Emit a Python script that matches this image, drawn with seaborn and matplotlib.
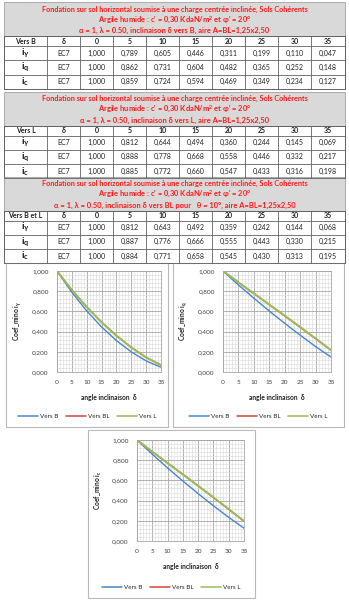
import matplotlib
matplotlib.use("Agg")
import matplotlib.pyplot as plt
import seaborn as sns
import pandas as pd
from matplotlib.patches import Rectangle
from matplotlib.ticker import FuncFormatter, MultipleLocator
from matplotlib.lines import Line2D

# ---------------- data ----------------
angles = [0, 5, 10, 15, 20, 25, 30, 35]

B_igamma = [1.000, 0.789, 0.605, 0.446, 0.311, 0.199, 0.110, 0.047]
B_iq = [1.000, 0.862, 0.731, 0.604, 0.482, 0.365, 0.252, 0.148]
B_ic = [1.000, 0.859, 0.724, 0.594, 0.469, 0.349, 0.234, 0.127]

L_igamma = [1.000, 0.812, 0.644, 0.494, 0.360, 0.244, 0.145, 0.069]
L_iq = [1.000, 0.888, 0.778, 0.668, 0.558, 0.446, 0.332, 0.217]
L_ic = [1.000, 0.885, 0.772, 0.660, 0.547, 0.433, 0.316, 0.198]

BL_igamma = [1.000, 0.812, 0.643, 0.492, 0.359, 0.242, 0.144, 0.068]
BL_iq = [1.000, 0.887, 0.776, 0.666, 0.555, 0.443, 0.330, 0.215]
BL_ic = [1.000, 0.884, 0.771, 0.658, 0.545, 0.430, 0.313, 0.195]

title_line1 = "Fondation sur sol horizontal soumise à une charge centrée inclinée, Sols Cohérents"
title_line2 = "Argile humide : c' = 0,30 KdaN/m$^{2}$ et φ' = 20°"
title_line3 = [
    "α = 1, λ = 0.50, inclinaison δ vers B, aire A=BL=1,25x2,50",
    "α = 1, λ = 0.50, inclinaison δ vers L, aire A=BL=1,25x2,50",
    "α = 1, λ = 0.50, inclinaison δ vers BL pour   θ = 10°, aire A=BL=1,25x2,50",
]
table_heads = ["Vers B", "Vers L", "Vers B et L"]
row_labels = [r"i$_{\gamma}$", r"i$_{q}$", r"i$_{c}$"]
method = "EC7"
series_names = ["Vers B", "Vers BL", "Vers L"]
series_colors = ["#4a86c8", "#d9423a", "#9bbb59"]
ylabels = [r"Coef_mino i$_{\gamma}$", r"Coef_mino i$_{q}$", r"Coef_mino i$_{c}$"]
xlabel = "angle inclinaison  δ"

tables = [
    [B_igamma, B_iq, B_ic],
    [L_igamma, L_iq, L_ic],
    [BL_igamma, BL_iq, BL_ic],
]
chart_series = [
    [B_igamma, BL_igamma, L_igamma],
    [B_iq, BL_iq, L_iq],
    [B_ic, BL_ic, L_ic],
]

# ---------------- style ----------------
sns.set_style("white")
plt.rcParams["font.family"] = ["Lato", "DejaVu Sans"]
plt.rcParams["mathtext.fontset"] = "dejavusans"
plt.rcParams["mathtext.default"] = "regular"

W, H = 349, 600
fig = plt.figure(figsize=(W / 100, H / 100), dpi=100)
bg = fig.add_axes([0, 0, 1, 1])
bg.set_xlim(0, W)
bg.set_ylim(H, 0)
bg.axis("off")

def fmt3(v):
    return f"{v:.3f}".replace(".", ",")

# ---------------- tables ----------------
x_left, x_right = 4, 345
col_edges = [4, 47, 80] + [80 + 33 * (i + 1) for i in range(8)]
col_edges[-1] = x_right
block_tops = [2, 91.5, 176.5]
title_h = 34
head_h = 10
row_h = 14.3
line_col = "#606060"
red = "#ff1a1a"

for t in range(3):
    top = block_tops[t]
    bg.add_patch(Rectangle((x_left, top), x_right - x_left, title_h,
                           facecolor="#d9d9d9", edgecolor="#a0a0a0", lw=0.6))
    cx = (x_left + x_right) / 2
    bg.text(cx, top + 7, title_line1, color=red, fontsize=5.2, weight="bold",
            ha="center", va="center")
    bg.text(cx, top + 18, title_line2, color=red, fontsize=5.4, weight="bold",
            ha="center", va="center")
    bg.text(cx, top + 28.5, title_line3[t], color=red, fontsize=5.4, weight="bold",
            ha="center", va="center")
    hy = top + title_h
    bottom = hy + head_h + 3 * row_h
    bg.add_patch(Rectangle((x_left, hy), x_right - x_left, bottom - hy,
                           facecolor="white", edgecolor=line_col, lw=0.6))
    heads = [table_heads[t], "δ"] + [str(a) for a in angles]
    for i, h in enumerate(heads):
        xc = (col_edges[i] + col_edges[i + 1]) / 2
        bg.text(xc, hy + head_h / 2 + 0.3, h, fontsize=5, weight="bold",
                ha="center", va="center", color="#202020")
    ys = [hy, hy + head_h] + [hy + head_h + row_h * (k + 1) for k in range(3)]
    for yy in ys:
        bg.plot([x_left, x_right], [yy, yy], color=line_col, lw=0.6)
    for xe in col_edges:
        bg.plot([xe, xe], [hy, bottom], color=line_col, lw=0.6)
    for r in range(3):
        ry = hy + head_h + row_h * r + row_h / 2
        bg.text((col_edges[0] + col_edges[1]) / 2, ry, row_labels[r], fontsize=7.5,
                weight="bold", ha="center", va="center", color="#202020")
        bg.text((col_edges[1] + col_edges[2]) / 2, ry, method, fontsize=5,
                ha="center", va="center", color="#202020")
        for c, v in enumerate(tables[t][r]):
            xc = (col_edges[c + 2] + col_edges[c + 3]) / 2
            bg.text(xc, ry, fmt3(v), fontsize=5, ha="center", va="center",
                    color="#202020")

# ---------------- charts ----------------
boxes = [(6, 263, 168, 427), (173, 263, 344, 427), (88, 430, 255, 598)]
plots = [(57, 271, 161, 372), (223, 271, 331, 372), (137, 440, 244, 541)]

def px_axes(x0, y0, x1, y1):
    return fig.add_axes([x0 / W, 1 - y1 / H, (x1 - x0) / W, (y1 - y0) / H])

for k in range(3):
    bx0, by0, bx1, by1 = boxes[k]
    bg.add_patch(Rectangle((bx0, by0), bx1 - bx0, by1 - by0, facecolor="white",
                           edgecolor="#b8b8b8", lw=0.8))
    ax = px_axes(*plots[k])
    rows = []
    for name, vals in zip(series_names, chart_series[k]):
        for a, v in zip(angles, vals):
            rows.append({"delta": a, "value": v, "series": name})
    df = pd.DataFrame(rows)
    sns.lineplot(data=df, x="delta", y="value", hue="series",
                 hue_order=series_names, palette=series_colors, ax=ax,
                 linewidth=1.0, legend=False)
    # thicker top (Vers L) line so it hides the nearly identical BL line
    ax.lines[-1].set_linewidth(1.4)
    ax.set_xlim(0, 35)
    ax.set_ylim(0, 1)
    ax.xaxis.set_major_locator(MultipleLocator(5))
    ax.xaxis.set_minor_locator(MultipleLocator(1))
    ax.yaxis.set_major_locator(MultipleLocator(0.2))
    ax.yaxis.set_minor_locator(MultipleLocator(0.04))
    ax.grid(which="major", color="#a6a6a6", lw=0.6)
    ax.grid(which="minor", color="#d9d9d9", lw=0.4)
    ax.set_axisbelow(True)
    ax.yaxis.set_major_formatter(FuncFormatter(lambda v, p: fmt3(v)))
    ax.tick_params(axis="both", which="both", length=0, labelsize=4.6,
                   labelcolor="#404040", pad=6)
    for s in ax.spines.values():
        s.set_color("#a6a6a6")
        s.set_linewidth(0.6)
    ax.set_xlabel(xlabel, fontsize=4.8, weight="bold", labelpad=6, color="#202020")
    ax.set_ylabel(ylabels[k], fontsize=4.8, weight="bold", labelpad=6, color="#202020")
    handles = [Line2D([0], [0], color=c, lw=1.1) for c in series_colors]
    cxf = ((bx0 + bx1) / 2) / W
    leg_y = 1 - (by1 - 11) / H
    fig.legend(handles, series_names, loc="center", bbox_to_anchor=(cxf, leg_y),
               ncol=3, frameon=False, fontsize=4.5, handlelength=3.2,
               columnspacing=1.2, handletextpad=0.3)

fig.savefig("out.png", dpi=100)
